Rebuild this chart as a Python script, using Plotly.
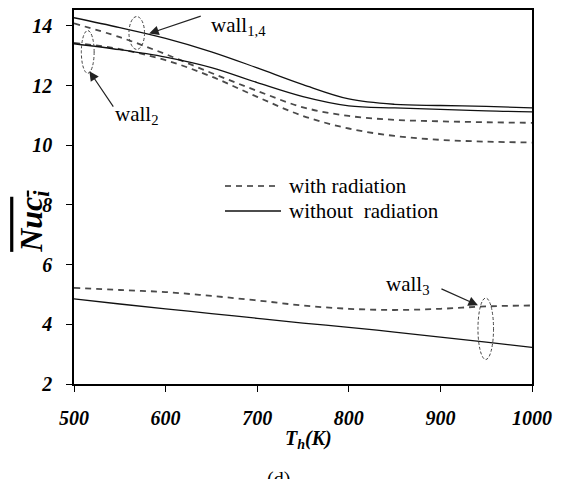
import plotly.graph_objects as go

# Hot-wall temperature Th (K)
T_h = [500, 550, 600, 650, 700, 750, 800, 850, 900, 950, 1000]

# Mean convective Nusselt number on each wall
wall14_no_rad = [14.27, 13.94, 13.58, 13.13, 12.59, 12.03, 11.55, 11.37, 11.33, 11.30, 11.25]
wall2_no_rad = [13.40, 13.20, 12.95, 12.60, 12.10, 11.63, 11.32, 11.25, 11.20, 11.15, 11.12]
wall14_rad = [14.08, 13.62, 13.05, 12.42, 11.82, 11.27, 10.98, 10.85, 10.80, 10.77, 10.75]
wall2_rad = [13.43, 13.22, 12.85, 12.30, 11.62, 10.98, 10.56, 10.31, 10.18, 10.12, 10.09]
wall3_rad = [5.22, 5.15, 5.08, 4.95, 4.80, 4.63, 4.52, 4.48, 4.52, 4.60, 4.63]
wall3_no_rad = [4.85, 4.68, 4.52, 4.36, 4.20, 4.04, 3.90, 3.74, 3.57, 3.40, 3.23]

x_ticks = [500, 600, 700, 800, 900, 1000]
y_ticks = [2, 4, 6, 8, 10, 12, 14]

SERIF = "Liberation Serif"
W, H = 567, 479
ML, MR, MT, MB = 74, 35, 8, 95
PW, PH = W - ML - MR, H - MT - MB


def px(x):
    return (x - ML) / PW


def py(y):
    return (H - MB - y) / PH


solid = dict(color="#111111", width=1.3)
dashed = dict(color="#4a4a4a", width=1.8, dash="6px,5px")

fig = go.Figure()
for ys, style in [
    (wall14_rad, dashed), (wall2_rad, dashed), (wall3_rad, dashed),
    (wall14_no_rad, solid), (wall2_no_rad, solid), (wall3_no_rad, solid),
]:
    fig.add_trace(go.Scatter(x=T_h, y=ys, mode="lines",
                             line=dict(shape="spline", smoothing=1.0, **style),
                             showlegend=False, hoverinfo="skip"))

axis_common = dict(
    showline=True, linecolor="black", linewidth=1.5, mirror=True,
    ticks="outside", ticklen=6, tickwidth=1.3, tickcolor="black",
    showgrid=False, zeroline=False,
    tickfont=dict(family=SERIF, size=20, color="black", weight="bold", style="italic"),
)

fig.update_layout(
    width=W, height=H,
    margin=dict(l=ML, r=MR, t=MT, b=MB),
    plot_bgcolor="white", paper_bgcolor="white",
    xaxis=dict(range=[500, 1000], tickvals=x_ticks, ticklabelstandoff=9, **axis_common),
    yaxis=dict(range=[2, 14.53], tickvals=y_ticks, ticklabelstandoff=10, **axis_common),
)

ann_font = dict(family=SERIF, size=21, color="black")
legend_font = dict(family=SERIF, size=21, color="black")
annotations = [
    # axis titles
    dict(text="<span style=\"text-decoration:overline\"><b><i>Nuc<sub>i</sub></i></b></span>",
         x=px(34), y=py(221), xref="paper", yref="paper", xanchor="center", yanchor="middle",
         showarrow=False, textangle=-90, font=dict(family=SERIF, size=32, color="black")),
    dict(text="<b><i>T<sub>h</sub>(K)</i></b>", x=px(308), y=py(440), xref="paper", yref="paper",
         xanchor="center", yanchor="middle",
         showarrow=False, font=dict(family=SERIF, size=20, color="black")),
    dict(text="(d)", x=px(278), y=py(466), xref="paper", yref="paper", xanchor="center", yanchor="top",
         showarrow=False, font=dict(family=SERIF, size=20, color="black")),
    # wall labels
    dict(text="wall<sub>1,4</sub>", x=647, y=13.98, xanchor="left", yanchor="middle",
         showarrow=False, font=ann_font),
    dict(text="wall<sub>2</sub>", x=569, y=11.0, xanchor="center", yanchor="middle",
         showarrow=False, font=ann_font),
    dict(text="wall<sub>3</sub>", x=865, y=5.33, xanchor="center", yanchor="middle",
         showarrow=False, font=ann_font),
    # arrows
    dict(x=582, y=13.74, ax=640, ay=14.34, axref="x", ayref="y", text="", showarrow=True,
         arrowhead=2, arrowsize=1.6, arrowwidth=1.2, arrowcolor="#222"),
    dict(x=516.8, y=12.48, ax=544, ay=11.24, axref="x", ayref="y", text="", showarrow=True,
         arrowhead=2, arrowsize=1.6, arrowwidth=1.2, arrowcolor="#222"),
    dict(x=941, y=4.64, ax=899.5, ay=5.21, axref="x", ayref="y", text="", showarrow=True,
         arrowhead=2, arrowsize=1.6, arrowwidth=1.2, arrowcolor="#222"),
    # legend text
    dict(text="with radiation", x=px(287), y=py(185), xref="paper", yref="paper",
         xanchor="left", yanchor="middle", showarrow=False, font=legend_font),
    dict(text="without  radiation", x=px(287), y=py(210), xref="paper", yref="paper",
         xanchor="left", yanchor="middle", showarrow=False, font=legend_font),
]
fig.update_layout(annotations=annotations)

ellipse_line = dict(color="#444", width=1, dash="3px,2px")
shapes = [
    dict(type="circle", xref="x", yref="y", x0=560, x1=577, y0=13.21, y1=14.31, line=ellipse_line),
    dict(type="circle", xref="x", yref="y", x0=508, x1=522, y0=12.41, y1=13.84, line=ellipse_line),
    dict(type="circle", xref="x", yref="y", x0=941, x1=958, y0=2.82, y1=4.88, line=ellipse_line),
    # legend keys
    dict(type="line", xref="paper", yref="paper", x0=px(225), x1=px(278), y0=py(185), y1=py(185),
         line=dict(color="#333", width=1.5, dash="6px,5px")),
    dict(type="line", xref="paper", yref="paper", x0=px(225), x1=px(281), y0=py(210), y1=py(210),
         line=dict(color="#111", width=1.5)),
]
fig.update_layout(shapes=shapes)

fig.write_html("out.html")
